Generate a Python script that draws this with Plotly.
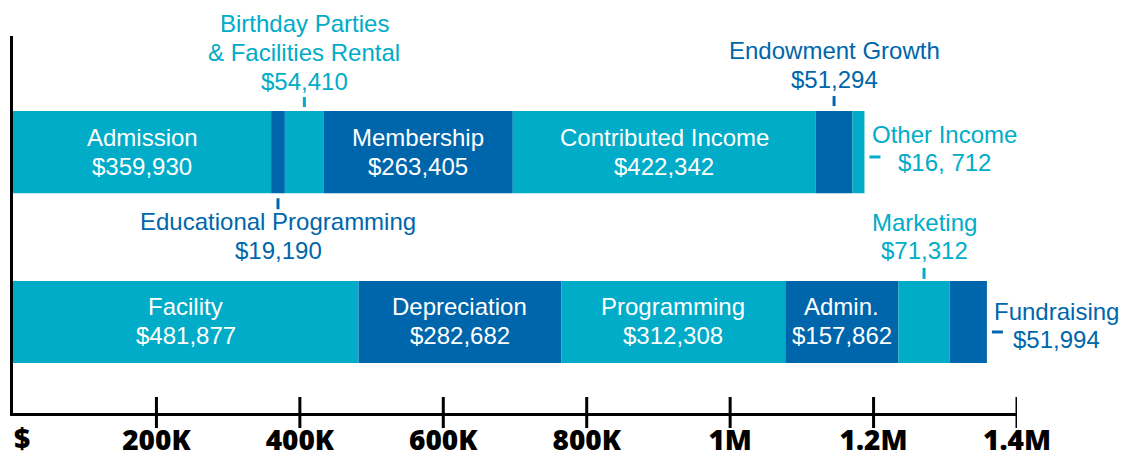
import plotly.graph_objects as go
import numpy as np

# ---------------- data ----------------
rev_names = ["Admission", "Educational Programming", "Birthday Parties & Facilities Rental",
             "Membership", "Contributed Income", "Endowment Growth", "Other Income"]
rev_values = [359930, 19190, 54410, 263405, 422342, 51294, 16712]
rev_lines = [["Admission"], ["Educational Programming"], ["Birthday Parties", "& Facilities Rental"],
             ["Membership"], ["Contributed Income"], ["Endowment Growth"], ["Other Income"]]
rev_amounts = ["$359,930", "$19,190", "$54,410", "$263,405", "$422,342", "$51,294", "$16, 712"]
rev_place = ["inside", "below", "above", "inside", "inside", "above", "right"]

exp_names = ["Facility", "Depreciation", "Programming", "Admin.", "Marketing", "Fundraising"]
exp_values = [481877, 282682, 312308, 157862, 71312, 51994]
exp_lines = [["Facility"], ["Depreciation"], ["Programming"], ["Admin."], ["Marketing"], ["Fundraising"]]
exp_amounts = ["$481,877", "$282,682", "$312,308", "$157,862", "$71,312", "$51,994"]
exp_place = ["inside", "inside", "inside", "inside", "above", "right"]

tick_vals = [200000, 400000, 600000, 800000, 1000000, 1200000, 1400000]
tick_text = ["200K", "400K", "600K", "800K", "1M", "1.2M", "1.4M"]

TEAL = "#00ACC7"
DARK = "#0066AB"

BAR_W = 0.484
HALF = BAR_W / 2
Y_RANGE = [-0.536, 1.684]
TEXT_FONT = "Liberation Sans, Arial, sans-serif"

fig = go.Figure()


def add_row(yrow, values, lines, amounts, places, extra_shifts):
    vals = np.array(values, dtype=float)
    bases = np.concatenate([[0], np.cumsum(vals)[:-1]])
    colors = [TEAL if i % 2 == 0 else DARK for i in range(len(vals))]
    fig.add_trace(go.Bar(
        x=vals, base=bases, y=[yrow] * len(vals), orientation="h",
        width=BAR_W, marker=dict(color=colors, line=dict(width=0)),
        hoverinfo="skip", showlegend=False))
    total = float(vals.sum())
    for i, v in enumerate(vals):
        center = bases[i] + v / 2
        txt = lines[i] + [amounts[i]]
        col = colors[i]
        place = places[i]
        if place == "inside":
            shifts = [15, -14]
            for t, s in zip(txt, shifts):
                fig.add_annotation(x=center, y=yrow, xref="x", yref="y", text=t,
                                   showarrow=False, yshift=s,
                                   font=dict(family=TEXT_FONT, size=24, color="white"),
                                   xanchor="center", yanchor="middle")
        elif place in ("above", "below"):
            edge = yrow + HALF if place == "above" else yrow - HALF
            shifts, tk = extra_shifts[i]
            for t, s in zip(txt, shifts):
                fig.add_annotation(x=center, y=edge, xref="x", yref="y", text=t,
                                   showarrow=False, yshift=s,
                                   font=dict(family=TEXT_FONT, size=24, color=col),
                                   xanchor="center", yanchor="middle")
            fig.add_shape(type="line", xref="x", yref="y", x0=center, x1=center,
                          ysizemode="pixel", yanchor=edge, y0=tk[0], y1=tk[1],
                          line=dict(color=col, width=3))
        elif place == "right":
            shifts, tk, dx = extra_shifts[i]
            for t, s in zip(txt, shifts):
                fig.add_annotation(x=total, y=yrow, xref="x", yref="y", text=t,
                                   showarrow=False, yshift=s, xshift=dx,
                                   font=dict(family=TEXT_FONT, size=24, color=col),
                                   xanchor="center", yanchor="middle")
            fig.add_shape(type="line", xref="x", yref="y",
                          xsizemode="pixel", xanchor=total, x0=5, x1=16,
                          ysizemode="pixel", yanchor=yrow, y0=tk, y1=tk,
                          line=dict(color=col, width=3))


rev_shifts = {
    1: ([-28, -57], (-5, -16)),
    2: ([88, 59, 30], (4, 14)),
    5: ([61, 32], (5, 15)),
    6: ([18, -10.5], -4.8, 80),
}
exp_shifts = {
    4: ([58, 30], (2, 13)),
    5: ([10, -18], -10, 70),
}

add_row(1, rev_values, rev_lines, rev_amounts, rev_place, rev_shifts)
add_row(0, exp_values, exp_lines, exp_amounts, exp_place, exp_shifts)

# tick marks crossing the x axis
for tv in tick_vals:
    fig.add_shape(type="line", xref="x", yref="paper", x0=tv, x1=tv,
                  ysizemode="pixel", yanchor=0, y0=-15, y1=16,
                  line=dict(color="black", width=3))

AXIS_FONT = dict(family="Open Sans, sans-serif", size=28, color="black", weight=800)

fig.add_annotation(x=0, y=Y_RANGE[0], xref="x", yref="y", text="$", showarrow=False,
                   xanchor="left", yanchor="middle", xshift=-1, yshift=-25,
                   font=AXIS_FONT)

fig.update_layout(
    width=1130, height=457,
    margin=dict(l=5, r=121, t=28, b=52),
    plot_bgcolor="white", paper_bgcolor="white",
    showlegend=False,
    barmode="overlay",
    xaxis=dict(range=[0, 1400000], showgrid=False, zeroline=False,
               showline=True, linecolor="black", linewidth=3,
               ticks="", ticklabelstandoff=0,
               tickvals=tick_vals, ticktext=tick_text, tickfont=AXIS_FONT,
               automargin=False, fixedrange=True),
    yaxis=dict(range=Y_RANGE, showgrid=False, zeroline=False,
               showline=True, linecolor="black", linewidth=3,
               showticklabels=False, ticks="", automargin=False, fixedrange=True),
)

fig.write_html("out.html")
